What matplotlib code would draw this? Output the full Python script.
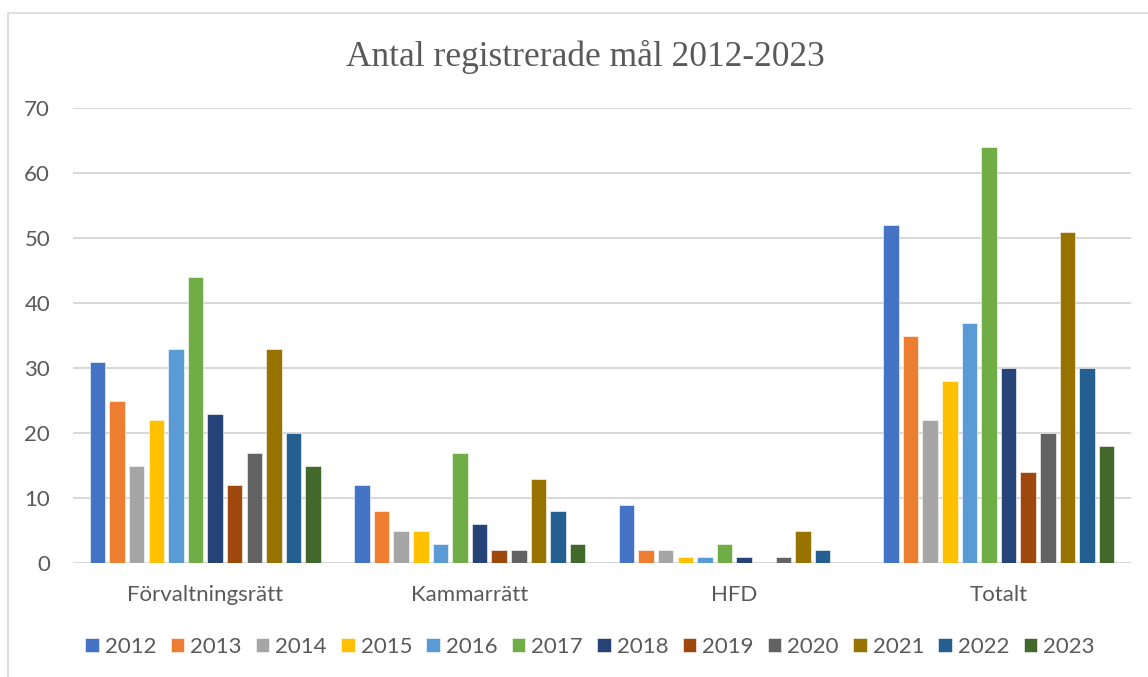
import numpy as np
import matplotlib.pyplot as plt
from matplotlib.patches import Rectangle

categories = ["Förvaltningsrätt", "Kammarrätt", "HFD", "Totalt"]
years = ["2012", "2013", "2014", "2015", "2016", "2017",
         "2018", "2019", "2020", "2021", "2022", "2023"]

# one list per year: Förvaltningsrätt, Kammarrätt, HFD, Totalt
values = {
    "2012": [31, 12, 9, 52],
    "2013": [25, 8, 2, 35],
    "2014": [15, 5, 2, 22],
    "2015": [22, 5, 1, 28],
    "2016": [33, 3, 1, 37],
    "2017": [44, 17, 3, 64],
    "2018": [23, 6, 1, 30],
    "2019": [12, 2, 0, 14],
    "2020": [17, 2, 1, 20],
    "2021": [33, 13, 5, 51],
    "2022": [20, 8, 2, 30],
    "2023": [15, 3, 0, 18],
}

colors = ["#4472C4", "#ED7D31", "#A5A5A5", "#FFC000", "#5B9BD5", "#70AD47",
          "#264478", "#9E480E", "#636363", "#997300", "#255E91", "#43682B"]

fig = plt.figure(figsize=(11.48, 6.77), dpi=100)
ax = fig.add_axes([73/1148, 1-563/677, (1131-73)/1148, (563-108)/677])

# chart border like the Excel chart area (only top/left edges fall inside the image)
fig.patches.append(Rectangle((8/1148, -0.01), 1.0, 1-13/677+0.01, transform=fig.transFigure,
                             fill=False, edgecolor="#D9D9D9", linewidth=1.2))

x = np.arange(len(categories))
step = 19.6/264.5
width = 15.5/264.5
n = len(years)
for i, (yr, c) in enumerate(zip(years, colors)):
    offs = (i - (n-1)/2) * step
    ax.bar(x + offs, values[yr], width, color=c, label=yr, zorder=3,
           edgecolor="white", linewidth=0.4)

ax.set_xlim(-0.5, len(categories)-0.5)
ax.set_ylim(0, 70)
ax.set_yticks(range(0, 71, 10))
ax.yaxis.grid(True, color="#D9D9D9", linewidth=1.5, zorder=0)
ax.set_axisbelow(True)
for s in ax.spines.values():
    s.set_visible(False)
ax.set_xticks(x)
ax.set_xticklabels(categories)
ax.tick_params(axis="both", length=0, labelsize=16, labelcolor="#595959")
ax.tick_params(axis="y", pad=16.5)
ax.tick_params(axis="x", pad=15.5)
for t in ax.get_xticklabels() + ax.get_yticklabels():
    t.set_fontfamily("Lato")

fig.text(585/1148, 1-57/677, "Antal registrerade mål 2012-2023", ha="center", va="center",
         fontsize=25.5, color="#595959", fontfamily="Liberation Serif")

fig.legend(loc="center", bbox_to_anchor=(590/1148, 1-647/677), ncol=12, frameon=False,
           prop={"family": "Lato", "size": 16}, labelcolor="#595959",
           handlelength=0.61, handleheight=0.61, handletextpad=0.27, columnspacing=0.64)

plt.savefig("out.png")
